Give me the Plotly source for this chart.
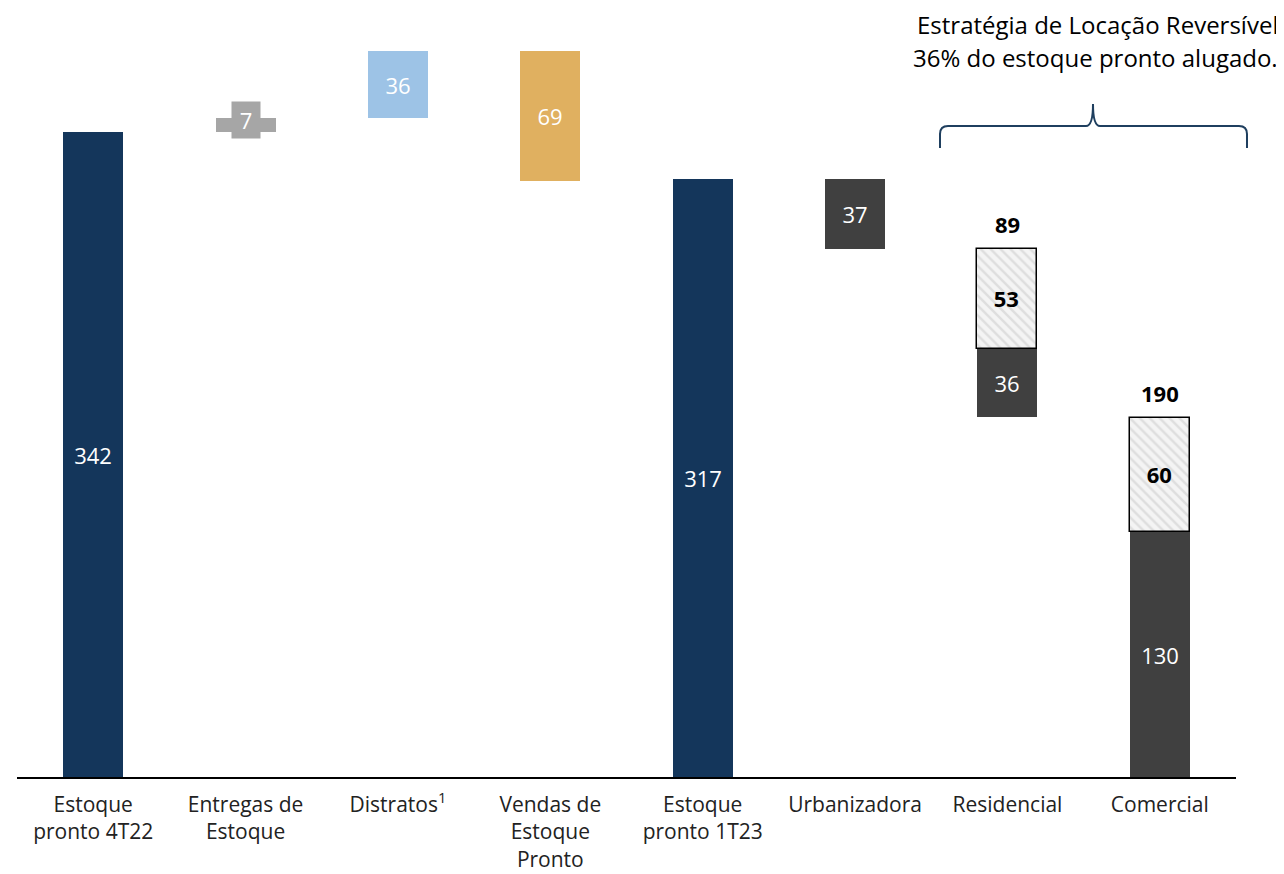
import plotly.graph_objects as go

categories = ["Estoque<br>pronto 4T22", "Entregas de<br>Estoque", "Distratos<sup>1</sup>",
              "Vendas de<br>Estoque<br>Pronto", "Estoque<br>pronto 1T23", "Urbanizadora",
              "Residencial", "Comercial"]
stock_4t22 = 342
entregas = 7
distratos = 36
vendas = 69
stock_1t23 = 317
urbanizadora = 37
residencial_own = 36
residencial_rented = 53
comercial_own = 130
comercial_rented = 60
residencial_total = 89
comercial_total = 190

NAVY = "#14365b"
GRAY = "#a6a6a6"
BLUE = "#9dc3e6"
GOLD = "#e0b060"
DARK = "#404040"
FONT = "Open Sans"

# waterfall bases
base_entregas = stock_4t22
base_distratos = stock_4t22 + entregas
base_vendas = base_distratos + distratos - vendas
base_urb = stock_1t23 - urbanizadora
base_res = base_urb - residencial_total
base_res_rented = base_res + residencial_own
base_com_rented = comercial_own

fig = go.Figure()
txtfont = dict(color="white", size=22, family=FONT)

fig.add_bar(x=[categories[0], categories[4]], y=[stock_4t22, stock_1t23], base=[0, 0],
            marker_color=NAVY, text=[str(stock_4t22), str(stock_1t23)])
fig.add_bar(x=[categories[1]], y=[entregas], base=[base_entregas], marker_color=GRAY)
fig.add_bar(x=[categories[2]], y=[distratos], base=[base_distratos], marker_color=BLUE,
            text=[str(distratos)])
fig.add_bar(x=[categories[3]], y=[vendas], base=[base_vendas], marker_color=GOLD,
            text=[str(vendas)])
fig.add_bar(x=[categories[5], categories[6], categories[7]],
            y=[urbanizadora, residencial_own, comercial_own],
            base=[base_urb, base_res, 0], marker_color=DARK,
            text=[str(urbanizadora), str(residencial_own), str(comercial_own)])
fig.add_bar(x=[categories[6], categories[7]], y=[residencial_rented, comercial_rented],
            base=[base_res_rented, base_com_rented],
            marker=dict(color="#f4f4f4", line=dict(color="black", width=1.5),
                        pattern=dict(shape="\\", fgcolor="#c8c8c8", bgcolor="#f4f4f4",
                                     size=7, solidity=0.35)),
            text=["<b>%d</b>" % residencial_rented, "<b>%d</b>" % comercial_rented],
            textfont=dict(color="black", size=22, family=FONT))

for i, tr in enumerate(fig.data):
    tr.update(width=0.394, showlegend=False, hoverinfo="skip")
    if i != 1:
        tr.update(textposition="inside", insidetextanchor="middle", constraintext="none")
    else:
        tr.update(textposition="none")
    if i != 5:
        tr.update(textfont=txtfont, marker_line_width=0)

annotations = []
annotations.append(dict(x=categories[1], y=base_entregas + entregas / 2, text=str(entregas),
                        showarrow=False, bgcolor=GRAY, width=28, height=36, borderpad=0,
                        yshift=5, font=dict(color="white", size=22, family=FONT)))
for cat, total, top in [(categories[6], residencial_total, base_res + residencial_total),
                        (categories[7], comercial_total, comercial_total)]:
    annotations.append(dict(x=cat, y=top, text="<b>%d</b>" % total, showarrow=False,
                            yanchor="bottom", yshift=8,
                            font=dict(color="black", size=22, family=FONT)))

# page has an 8px body margin: figure is sized and offset to compensate
OFF = 8
W, H = 1284 - OFF, 874 - OFF
L, R, T, B = 17 - OFF, 48, 0, 97
pw, ph = W - L - R, H - T - B


def px(x, y):
    return "%.5f,%.5f" % ((x - OFF - L) / pw, (H - B - (y - OFF)) / ph)


def pxx(x):
    return (x - OFF - L) / pw


def pxy(y):
    return (H - B - (y - OFF)) / ph


path = ("M " + px(940, 148) + " L " + px(940, 134) + " Q " + px(940, 126) + " " + px(948, 126) +
        " L " + px(1086, 126) + " Q " + px(1093, 126) + " " + px(1093, 104) +
        " Q " + px(1093, 126) + " " + px(1100, 126) + " L " + px(1239, 126) +
        " Q " + px(1247, 126) + " " + px(1247, 134) + " L " + px(1247, 148))

annotations.append(dict(xref="paper", yref="paper", x=pxx(1280), y=pxy(25),
                        xanchor="right", yanchor="middle", showarrow=False,
                        text="Estratégia de Locação Reversível",
                        font=dict(family="Open Sans", size=24, color="black")))
annotations.append(dict(xref="paper", yref="paper", x=pxx(1280), y=pxy(57),
                        xanchor="right", yanchor="middle", showarrow=False,
                        text="36% do estoque pronto alugado.",
                        font=dict(family="Open Sans", size=24, color="black")))

PX_PER_UNIT = 1.887

fig.update_layout(
    width=W, height=H, margin=dict(l=L, r=R, t=T, b=B, autoexpand=False),
    plot_bgcolor="white", paper_bgcolor="white",
    barmode="overlay", bargap=0,
    annotations=annotations,
    shapes=[dict(type="path", xref="paper", yref="paper", path=path,
                 line=dict(color="#1f3f5f", width=2))],
    xaxis=dict(type="category", categoryorder="array", categoryarray=categories,
               range=[-0.5, 7.5], showline=True, linecolor="black", linewidth=1.5,
               showgrid=False, zeroline=False, ticks="", ticklabelstandoff=8,
               tickfont=dict(family=FONT, size=21, color="#222222")),
    yaxis=dict(range=[0, ph / PX_PER_UNIT], visible=False, showgrid=False, zeroline=False),
    font=dict(family=FONT),
)

fig.write_html("out.html")
